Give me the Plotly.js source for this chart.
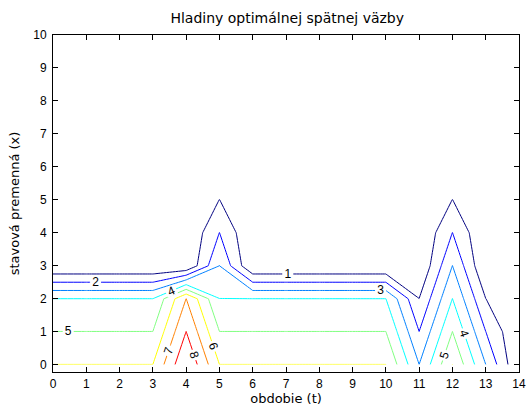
<!DOCTYPE html>
<html>
<head>
<meta charset="utf-8">
<script src="https://cdn.plot.ly/plotly-3.0.1.min.js"></script>
<style>html,body{margin:0;padding:0;background:#fff;}#chart{width:527px;height:412px;}</style>
</head>
<body>
<div id="chart"></div>
<script>
// obdobie (t) grid
const tValues = [0,1,2,3,4,5,6,7,8,9,10,11,12,13,14];
// stavová premenná (x) grid
const xValues = [0,1,2,3,4,5,6,7,8,9,10];
// optimal feedback values, one array per state row x = 0..10 (columns t = 0..14)
const zRowX0  = [6,6,6,6,9,6,6,6,6,6,6,3,6,3,0];
const zRowX1  = [5,5,5,5,8,5,5,5,5,5,5,2,5,2,0];
const zRowX2  = [4,4,4,4,7,4,4,4,4,4,4,1,4,1,0];
const zRowX3  = [0,0,0,0,0,3,0,0,0,0,0,0,3,0,0];
const zRowX4  = [0,0,0,0,0,2,0,0,0,0,0,0,2,0,0];
const zRowX5  = [0,0,0,0,0,1,0,0,0,0,0,0,1,0,0];
const zRowX6  = [0,0,0,0,0,0,0,0,0,0,0,0,0,0,0];
const zRowX7  = [0,0,0,0,0,0,0,0,0,0,0,0,0,0,0];
const zRowX8  = [0,0,0,0,0,0,0,0,0,0,0,0,0,0,0];
const zRowX9  = [0,0,0,0,0,0,0,0,0,0,0,0,0,0,0];
const zRowX10 = [0,0,0,0,0,0,0,0,0,0,0,0,0,0,0];
// contour levels 1..8
const levelFirst = 1;
const levelLast = 8;

const zMatrix = [zRowX0,zRowX1,zRowX2,zRowX3,zRowX4,zRowX5,zRowX6,zRowX7,zRowX8,zRowX9,zRowX10];
const eps = 0.01; // levels drawn a hair below integers so lines that sit exactly on grid values are traced
const jet = ['#000080','#0000ff','#0080ff','#00ffff','#80ff80','#ffff00','#ff8000','#ff0000'];
const nL = levelLast - levelFirst;
const cs = jet.map((c,i)=>[i/nL, c]);

const font = 'Liberation Sans, Arial, Helvetica, sans-serif';
const trace = {
  type: 'contour',
  x: tValues,
  y: xValues,
  z: zMatrix,
  autocontour: false,
  contours: {
    start: levelFirst - eps,
    end: levelLast - eps,
    size: 1,
    coloring: 'lines',
    showlabels: true,
    labelformat: '.0f',
    labelfont: {family: font, size: 12, color: '#000'}
  },
  colorscale: cs,
  zmin: levelFirst - eps,
  zmax: levelLast - eps,
  showscale: false,
  line: {width: 1, smoothing: 0},
  hoverinfo: 'skip'
};

const axisCommon = {
  showgrid: false, zeroline: false,
  showline: true, linecolor: '#000', linewidth: 1,
  mirror: 'ticks', ticks: 'inside', ticklen: 5, tickcolor: '#000', tickwidth: 1,
  tickfont: {family: font, size: 12, color: '#000'},
  ticklabeloverflow: 'allow',
  dtick: 1, tick0: 0
};

const layout = {
  width: 527, height: 412,
  margin: {l: 53, r: 8, t: 35, b: 40},
  paper_bgcolor: '#fff', plot_bgcolor: '#fff',
  title: {text: 'Hladiny optimálnej spätnej väzby', font: {family: 'DejaVu Sans, sans-serif', size: 14, color: '#000'}, x: 0.545, xanchor: 'center', y: 0.955, yanchor: 'middle'},
  xaxis: Object.assign({}, axisCommon, {range: [0, 14], ticklabelstandoff: 1, title: {text: 'obdobie (t)', font: {family: 'DejaVu Sans, sans-serif', size: 13, color: '#000'}, standoff: 2}}),
  yaxis: Object.assign({}, axisCommon, {range: [-0.22, 10], ticklabelstandoff: 3, title: {text: 'stavová premenná (x)', font: {family: 'DejaVu Sans, sans-serif', size: 13, color: '#000'}, standoff: 10}}),
  showlegend: false
};

Plotly.newPlot('chart', [trace], layout, {staticPlot: true, displayModeBar: false});
</script>
</body>
</html>
